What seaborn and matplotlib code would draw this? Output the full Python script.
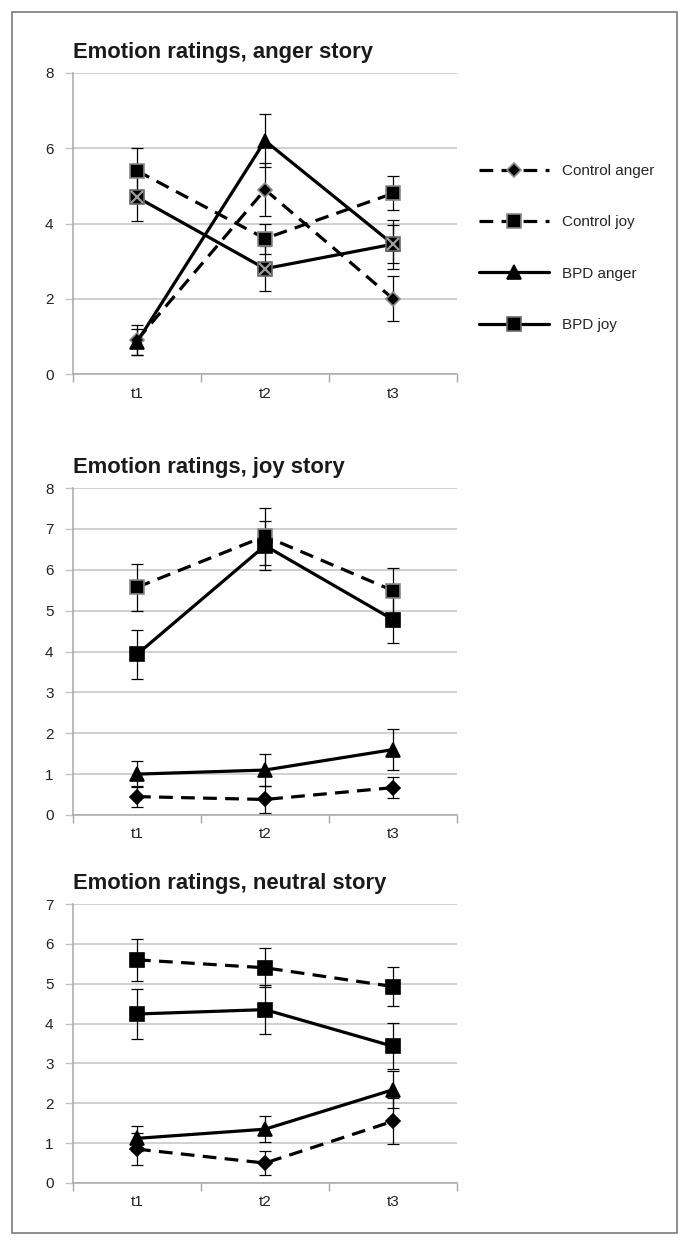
import matplotlib
matplotlib.use("Agg")
import matplotlib.pyplot as plt
from matplotlib.patches import Rectangle
import seaborn as sns
import pandas as pd

# ---------------- data ----------------
times = ["t1", "t2", "t3"]
series = ["Control anger", "Control joy", "BPD anger", "BPD joy"]
titles = ["Emotion ratings, anger story", "Emotion ratings, joy story",
          "Emotion ratings, neutral story"]

# anger story
anger_ctrl_anger = [0.90, 4.90, 2.00]
anger_ctrl_anger_err = [0.40, 0.70, 0.60]
anger_ctrl_joy = [5.40, 3.60, 4.80]
anger_ctrl_joy_err = [0.60, 0.40, 0.45]
anger_bpd_anger = [0.85, 6.20, 3.45]
anger_bpd_anger_err = [0.35, 0.70, 0.65]
anger_bpd_joy = [4.70, 2.80, 3.45]
anger_bpd_joy_err = [0.63, 0.60, 0.50]

# joy story
joy_ctrl_anger = [0.45, 0.38, 0.67]
joy_ctrl_anger_err = [0.25, 0.32, 0.25]
joy_ctrl_joy = [5.57, 6.82, 5.49]
joy_ctrl_joy_err = [0.57, 0.70, 0.55]
joy_bpd_anger = [1.00, 1.10, 1.60]
joy_bpd_anger_err = [0.32, 0.40, 0.50]
joy_bpd_joy = [3.93, 6.59, 4.78]
joy_bpd_joy_err = [0.60, 0.60, 0.58]

# neutral story
neu_ctrl_anger = [0.85, 0.50, 1.55]
neu_ctrl_anger_err = [0.40, 0.30, 0.58]
neu_ctrl_joy = [5.60, 5.40, 4.93]
neu_ctrl_joy_err = [0.52, 0.49, 0.50]
neu_bpd_anger = [1.12, 1.35, 2.34]
neu_bpd_anger_err = [0.32, 0.33, 0.47]
neu_bpd_joy = [4.24, 4.35, 3.43]
neu_bpd_joy_err = [0.63, 0.61, 0.58]

y_max = [8, 8, 7]
y_step = [2, 1, 1]

panels = [
    [(anger_ctrl_anger, anger_ctrl_anger_err), (anger_ctrl_joy, anger_ctrl_joy_err),
     (anger_bpd_anger, anger_bpd_anger_err), (anger_bpd_joy, anger_bpd_joy_err)],
    [(joy_ctrl_anger, joy_ctrl_anger_err), (joy_ctrl_joy, joy_ctrl_joy_err),
     (joy_bpd_anger, joy_bpd_anger_err), (joy_bpd_joy, joy_bpd_joy_err)],
    [(neu_ctrl_anger, neu_ctrl_anger_err), (neu_ctrl_joy, neu_ctrl_joy_err),
     (neu_bpd_anger, neu_bpd_anger_err), (neu_bpd_joy, neu_bpd_joy_err)],
]

# ---------------- style ----------------
sns.set_theme(style="white")
plt.rcParams["font.family"] = ["Liberation Sans", "DejaVu Sans"]

DASH = (0, (4.3, 2.6))
line_styles = [DASH, DASH, "-", "-"]
markers = ["D", "s", "^", "s"]
msizes = [7.5, 9.5, 10, 10.5]
grid_c = "#c4c4c4"
spine_c = "#a8a8a8"
# marker edge colours per panel (control markers have grey rims in the scans)
mec = [["#8a8a8a", "#8a8a8a", "black", "#6a6a6a"],
       ["black", "#8a8a8a", "black", "black"],
       ["black", "black", "black", "black"]]

fig = plt.figure(figsize=(6.9, 12.46), dpi=100)
W, H = 690, 1246
boxes = [(73, 73, 457, 374), (73, 488, 457, 815), (73, 904, 457, 1183)]

axes = []
for i, (l, t, r, b) in enumerate(boxes):
    ax = fig.add_axes([l / W, 1 - b / H, (r - l) / W, (b - t) / H])
    axes.append(ax)
    for j, (vals, errs) in enumerate(panels[i]):
        df = pd.DataFrame({"time": times, "rating": vals})
        sns.lineplot(data=df, x="time", y="rating", ax=ax, sort=False,
                     errorbar=None, color="black", lw=2.3,
                     linestyle=line_styles[j], marker=markers[j],
                     markersize=msizes[j], markeredgecolor=mec[i][j],
                     markeredgewidth=1.2, markerfacecolor="black",
                     label=series[j], zorder=3 + j)
        ax.errorbar(times, vals, yerr=errs, fmt="none", ecolor="black",
                    elinewidth=0.9, capsize=4.5, capthick=0.9, zorder=2)
    if i == 0:
        ax.plot(times, anger_bpd_joy, ls="none", marker="x", ms=8,
                mew=1.6, color="#9c9c9c", zorder=10)
    if ax.get_legend() is not None:
        ax.get_legend().remove()
    ax.set_xlabel("")
    ax.set_ylabel("")
    ax.set_xlim(-0.5, 2.5)
    ax.set_ylim(0, y_max[i])
    ax.set_yticks(range(0, y_max[i] + 1, y_step[i]))
    ax.set_xticks([-0.5, 0.5, 1.5, 2.5], minor=True)
    ax.tick_params(axis="x", which="major", bottom=True, length=0, pad=9,
                   labelsize=11, labelcolor="#222222")
    ax.tick_params(axis="x", which="minor", bottom=True, length=6,
                   width=1, color=spine_c, direction="out")
    ax.tick_params(axis="y", left=True, length=6, width=1, color=grid_c,
                   pad=8, labelsize=11, labelcolor="#222222")
    ax.grid(axis="y", color=grid_c, lw=1.1)
    ax.grid(axis="x", visible=False)
    ax.set_axisbelow(True)
    for s in ["top", "right"]:
        ax.spines[s].set_visible(False)
    for s in ["left", "bottom"]:
        ax.spines[s].set_color(spine_c)
        ax.spines[s].set_linewidth(1.1)
    ax.set_title(titles[i], loc="left", fontsize=15.8, fontweight="bold",
                 color="#1a1a1a", pad=10.5)

handles, labels = axes[0].get_legend_handles_labels()
fig.legend(handles[:4], labels[:4], loc="center left",
           bbox_to_anchor=(479 / W, 1 - 248 / H), frameon=False,
           fontsize=11, handlelength=4.6, handletextpad=0.85,
           labelspacing=2.45, borderpad=0, borderaxespad=0)

fig.patches.append(Rectangle((12 / W, 1 - 1233 / H), 665 / W, 1221 / H,
                             transform=fig.transFigure, fill=False,
                             edgecolor="#7a7a7a", lw=1.2))

fig.savefig("out.png", dpi=100)
